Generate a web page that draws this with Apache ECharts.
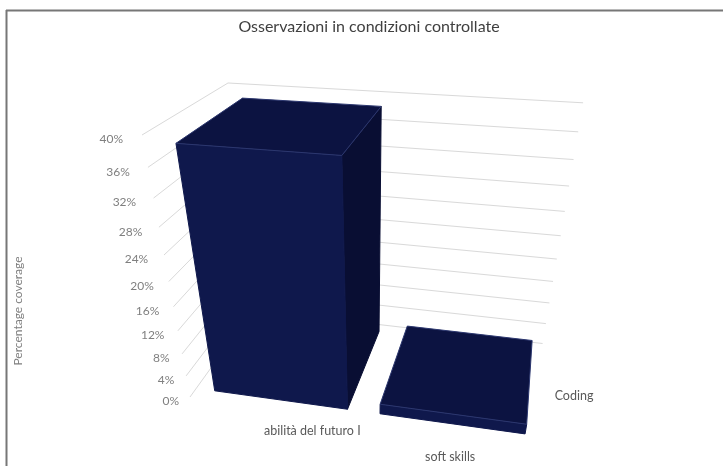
<!DOCTYPE html>
<html>
<head>
<meta charset="utf-8">
<script src="https://cdn.jsdelivr.net/npm/echarts@6/dist/echarts.min.js"></script>
<style>
  html, body { margin: 0; padding: 0; background: #fff; }
  #chart { width: 723px; height: 466px; }
</style>
</head>
<body>
<div id="chart"></div>
<script>
// ---- data ----
const chartTitle = 'Osservazioni in condizioni controllate';
const categories = ['abilità del futuro I', 'soft skills'];
const seriesName = 'Coding';
const coverage = [0.385, 0.018];
const yTicks = [0, 0.04, 0.08, 0.12, 0.16, 0.20, 0.24, 0.28, 0.32, 0.36, 0.40];
const yTickLabels = ['0%', '4%', '8%', '12%', '16%', '20%', '24%', '28%', '32%', '36%', '40%'];
const yAxisName = 'Percentage coverage';

// ---- 3D scene ----
// Unit box (x: categories, y: value, z: depth) drawn with a three-point
// perspective: screen origin of the front-left floor corner, the three
// vanishing points and a weight per axis.
const PERSP = {
  origin: [190, 397],
  vpX: [-3500, -125], vpY: [369, 1375], vpZ: [562, -119],
  kx: -0.08624, ky: -0.2113, kz: 0.203
};
// bar footprint: share of the category band / of the depth, and a small inset from the left wall
const BAR = { width: 0.81, depth: 0.83, inset: 0.011 };
const COLORS = {
  grid: '#d9d9d9', front: '#0f184c', top: '#0c1341', side: '#090e33', edge: '#2c376f',
  tick: '#7f7f7f', text: '#595959', title: '#404040', frame: '#777777'
};
const FONT = 'Lato';
// small nudges for the category captions under the floor
const CAT_LABEL_SHIFT = [[41, 22], [5, 24]];

function project(X, Y, Z) {
  const p = PERSP;
  const w = p.kx * X + p.ky * Y + p.kz * Z + 1;
  const x = p.kx * X * p.vpX[0] + p.ky * Y * p.vpY[0] + p.kz * Z * p.vpZ[0] + p.origin[0];
  const y = p.kx * X * p.vpX[1] + p.ky * Y * p.vpY[1] + p.kz * Z * p.vpZ[1] + p.origin[1];
  return [x / w, y / w];
}

// viewer position in box coordinates (null vector of the projection matrix)
const viewer = (function () {
  const p = PERSP;
  const c1 = [p.kx * p.vpX[0], p.kx * p.vpX[1], p.kx];
  const c2 = [p.ky * p.vpY[0], p.ky * p.vpY[1], p.ky];
  const c3 = [p.kz * p.vpZ[0], p.kz * p.vpZ[1], p.kz];
  const c4 = [p.origin[0], p.origin[1], 1];
  const det = (a, b, c) =>
    a[0] * (b[1] * c[2] - b[2] * c[1]) - a[1] * (b[0] * c[2] - b[2] * c[0]) + a[2] * (b[0] * c[1] - b[1] * c[0]);
  const h = [det(c2, c3, c4), -det(c1, c3, c4), det(c1, c2, c4), -det(c1, c2, c3)];
  return [h[0] / h[3], h[1] / h[3], h[2] / h[3]];
})();

// flat grid pixels -> unit box coordinates
function boxX(cs, px) { return (px - cs.x) / cs.width; }
function boxY(cs, py) { return (cs.y + cs.height - py) / cs.height; }

function renderWalls(params, api) {
  const cs = params.coordSys;
  const p = api.coord([0, api.value(1)]);
  const Y = boxY(cs, p[1]);
  const front = project(0, Y, 0);
  const backLeft = project(0, Y, 1);
  const backRight = project(1, Y, 1);
  return {
    type: 'group',
    children: [
      { type: 'polyline', shape: { points: [front, backLeft, backRight] },
        style: { stroke: COLORS.grid, lineWidth: 1, fill: 'none' } },
      { type: 'text', x: front[0] - 11 - 8 * Y, y: front[1] + 4.5,
        style: { text: yTickLabels[params.dataIndex], align: 'right', verticalAlign: 'middle',
                 fill: COLORS.tick, font: '12px ' + FONT } }
    ]
  };
}

function renderBars(params, api) {
  const cs = params.coordSys;
  const i = api.value(0);
  const topPx = api.coord([i, api.value(1)]);
  const basePx = api.coord([i, 0]);
  const band = api.size([1, 0])[0];
  const half = band * BAR.width / 2;
  const xc = boxX(cs, topPx[0]);
  const x0 = boxX(cs, topPx[0] - half) + BAR.inset, x1 = boxX(cs, topPx[0] + half) + BAR.inset;
  const y0 = boxY(cs, basePx[1]), y1 = boxY(cs, topPx[1]);
  const z0 = (1 - BAR.depth) / 2, z1 = 1 - z0;
  const P = project;
  const poly = (pts, fill, stroke) => ({
    type: 'polygon', shape: { points: pts },
    style: { fill: fill, stroke: stroke || fill, lineWidth: 1 }
  });
  const faces = [];
  if (viewer[0] > x1) {
    faces.push(poly([P(x1, y0, z0), P(x1, y0, z1), P(x1, y1, z1), P(x1, y1, z0)], COLORS.side));
  }
  if (viewer[0] < x0) {
    faces.push(poly([P(x0, y0, z0), P(x0, y0, z1), P(x0, y1, z1), P(x0, y1, z0)], COLORS.side));
  }
  faces.push(poly([P(x0, y0, z0), P(x1, y0, z0), P(x1, y1, z0), P(x0, y1, z0)], COLORS.front));
  faces.push(poly([P(x0, y1, z0), P(x1, y1, z0), P(x1, y1, z1), P(x0, y1, z1)], COLORS.top, COLORS.edge));
  const c = project(xc, 0, 0);
  const shift = CAT_LABEL_SHIFT[i] || [0, 22];
  faces.push({
    type: 'text', x: c[0] + shift[0], y: c[1] + shift[1],
    style: { text: categories[i], align: 'center', verticalAlign: 'middle',
             fill: COLORS.text, font: '12.5px ' + FONT }
  });
  return { type: 'group', children: faces };
}

function renderSeriesAxis(params, api) {
  const p = project(1, 0, 0.5);
  return {
    type: 'text', x: p[0] + 14, y: p[1] + 6,
    style: { text: seriesName, align: 'left', verticalAlign: 'middle',
             fill: COLORS.text, font: '12.5px ' + FONT }
  };
}

const chart = echarts.init(document.getElementById('chart'), null, { renderer: 'canvas' });
chart.setOption({
  animation: false,
  backgroundColor: '#ffffff',
  title: {
    text: chartTitle, left: 364, top: 14, textAlign: 'center',
    textStyle: { fontFamily: FONT, fontSize: 16, fontWeight: 'normal', color: COLORS.title }
  },
  grid: { left: 0, right: 0, top: 0, bottom: 0, show: false },
  xAxis: { type: 'category', data: categories, show: false },
  yAxis: { type: 'value', min: 0, max: 0.4, interval: 0.04, show: false },
  graphic: [
    { type: 'line', shape: { x1: 6, y1: 10.5, x2: 723, y2: 10.5 },
      style: { stroke: COLORS.frame, lineWidth: 2 } },
    { type: 'line', shape: { x1: 6.5, y1: 10, x2: 6.5, y2: 466 },
      style: { stroke: COLORS.frame, lineWidth: 2 } },
    { type: 'text', x: 18, y: 311, rotation: Math.PI / 2,
      style: { text: yAxisName, align: 'center', verticalAlign: 'middle',
               fill: COLORS.tick, font: '12px ' + FONT } }
  ],
  series: [
    { type: 'custom', name: 'walls', z: 1, renderItem: renderWalls,
      data: yTicks.map(v => [0, v]), silent: true },
    { type: 'custom', name: seriesName, z: 2, renderItem: renderBars,
      data: coverage.map((v, i) => [i, v]), silent: true },
    { type: 'custom', name: 'seriesAxis', z: 2, renderItem: renderSeriesAxis,
      data: [[0, 0]], silent: true }
  ]
});
</script>
</body>
</html>
